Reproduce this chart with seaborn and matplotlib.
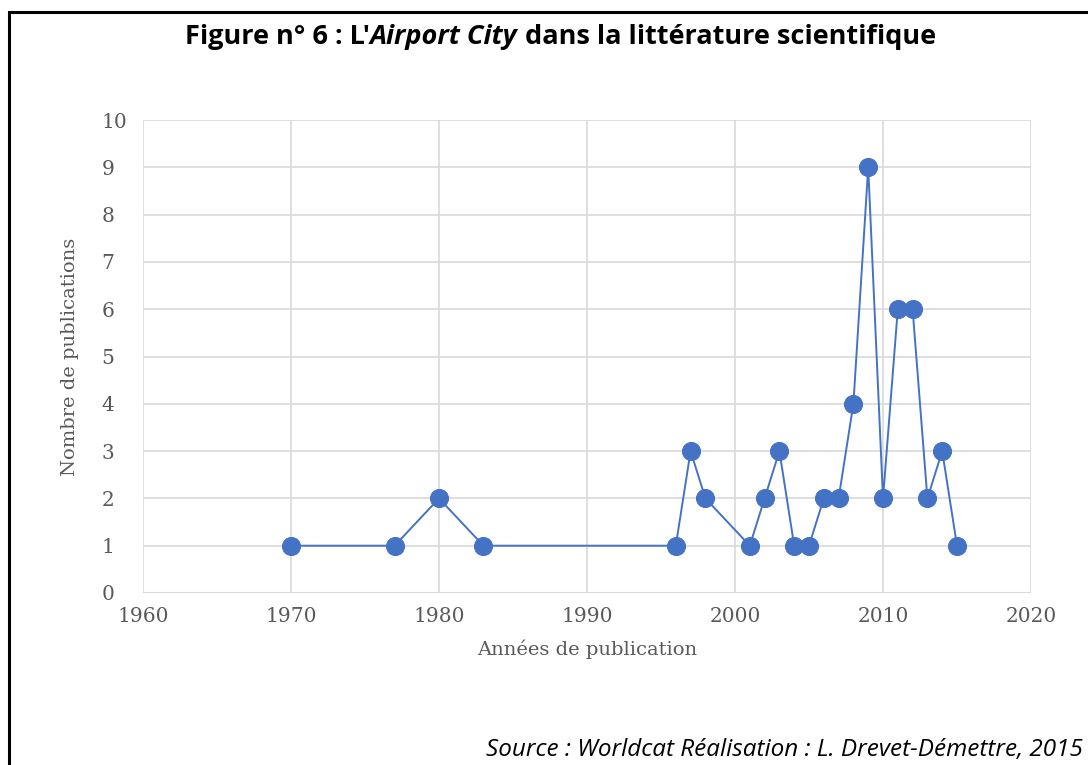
import matplotlib
matplotlib.use("Agg")
import matplotlib.pyplot as plt
import seaborn as sns
import pandas as pd
from matplotlib.patches import Rectangle

years = [1970, 1977, 1980, 1983, 1996, 1997, 1998, 2001, 2002, 2003, 2004,
         2005, 2006, 2007, 2008, 2009, 2010, 2011, 2012, 2013, 2014, 2015]
publications = [1, 1, 2, 1, 1, 3, 2, 1, 2, 3, 1, 1, 2, 2, 4, 9, 2, 6, 6, 2, 3, 1]
x_ticks = [1960, 1970, 1980, 1990, 2000, 2010, 2020]
y_ticks = list(range(0, 11))

df = pd.DataFrame({"year": years, "pubs": publications})

sns.set_theme(style="white")
plt.rcParams["font.family"] = ["DejaVu Serif"]

fig = plt.figure(figsize=(10.88, 7.65), dpi=100)
ax = fig.add_axes([143/1088, 1-593/765, (1031-143)/1088, (593-120)/765])

color = "#4472C4"
sns.lineplot(data=df, x="year", y="pubs", ax=ax, color=color, linewidth=1.4,
             marker="o", markersize=13, markeredgecolor=color, markerfacecolor=color,
             zorder=3)

ax.set_xlim(1960, 2020)
ax.set_ylim(0, 10)
ax.set_xticks(x_ticks)
ax.set_yticks(y_ticks)
ax.grid(True, color="#D9D9D9", linewidth=1.2)
for s in ax.spines.values():
    s.set_visible(False)
ax.axhline(0, color="#D9D9D9", linewidth=1.5, zorder=1)
ax.tick_params(axis="both", labelsize=14.5, colors="#595959", length=0)
ax.tick_params(axis="x", pad=10)
ax.tick_params(axis="y", pad=30)
for lab in ax.get_yticklabels():
    lab.set_horizontalalignment("left")
ax.set_xlabel("Années de publication", fontsize=14, color="#595959", labelpad=10)
ax.set_ylabel("Nombre de publications", fontsize=14, color="#595959", labelpad=16)

# Title in pieces (bold / bold italic / bold)
tfont = "Open Sans"
tsize = 19.5
t1 = fig.text(185/1088, 1-37/765, "Figure n° 6 : L'", fontsize=tsize, fontweight="bold",
              family=tfont, ha="left", va="center", color="black")
t2 = ax.annotate("Airport City", xy=(1, 0.5), xycoords=t1, va="center", ha="left",
                 fontsize=tsize, fontweight="bold", style="italic", family=tfont,
                 annotation_clip=False, color="black")
t3 = ax.annotate(" dans la littérature scientifique", xy=(1, 0.5), xycoords=t2,
                 va="center", ha="left", fontsize=tsize, fontweight="bold", family=tfont,
                 annotation_clip=False, color="black")

fig.text(1083/1088, 1-750/765, "Source : Worldcat Réalisation : L. Drevet-Démettre, 2015",
         fontsize=17.5, style="italic", family="Open Sans", ha="right", va="center",
         color="black")

fig.patches.append(Rectangle((9/1088, -0.05), 1.2, 1-12/765+0.05, transform=fig.transFigure,
                             fill=False, edgecolor="black", linewidth=2.2))

fig.savefig("out.png", dpi=100)
